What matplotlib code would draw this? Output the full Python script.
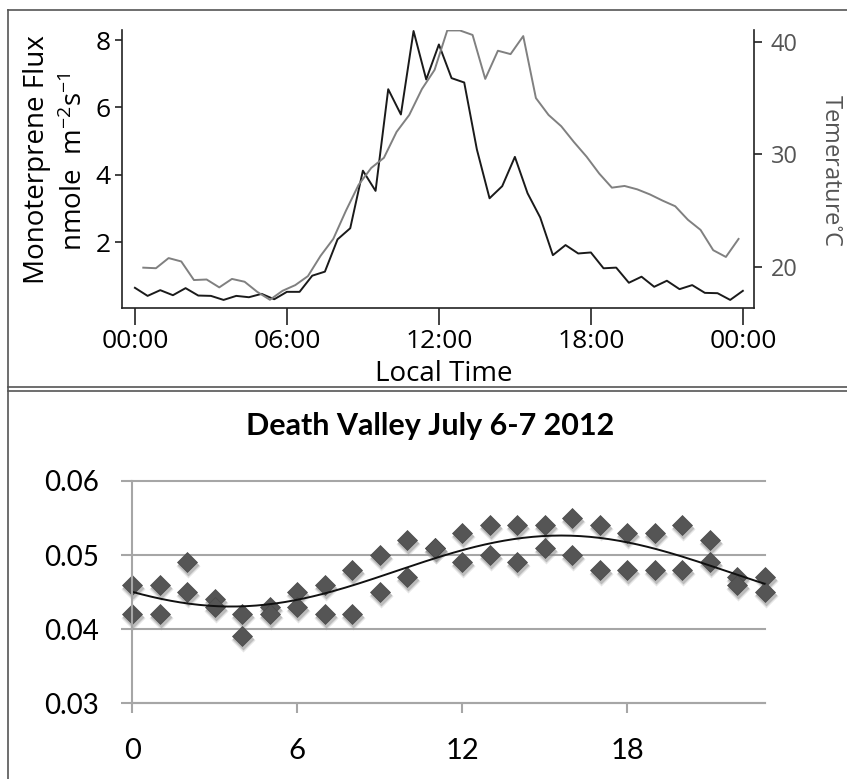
import numpy as np
import matplotlib
matplotlib.use("Agg")
import matplotlib.pyplot as plt
from matplotlib.lines import Line2D
from matplotlib.transforms import offset_copy

plt.rcParams['font.family'] = ['Open Sans', 'DejaVu Sans']
plt.rcParams['mathtext.default'] = 'regular'

W, H = 847, 779

# --- top panel data: half-hourly flux and temperature ---
flux_hours = np.arange(0, 24.01, 0.5)
flux = [0.64, 0.40, 0.57, 0.42, 0.63, 0.41, 0.40, 0.28, 0.40, 0.36,
        0.46, 0.30, 0.52, 0.52, 1.00, 1.12, 2.08, 2.41, 4.12, 3.52,
        6.54, 5.79, 8.27, 6.83, 7.87, 6.87, 6.74, 4.75, 3.30, 3.66,
        4.53, 3.45, 2.73, 1.61, 1.91, 1.66, 1.69, 1.22, 1.24, 0.79,
        0.97, 0.67, 0.85, 0.60, 0.72, 0.49, 0.48, 0.28, 0.55]

temp_hours = np.arange(0.33, 24, 0.5)
temp = [19.95, 19.9, 20.8, 20.5, 18.85, 18.9, 18.2, 18.95, 18.7, 17.8,
        17.1, 17.9, 18.4, 19.2, 21.0, 22.5, 25.0, 27.3, 28.8, 29.7,
        32.0, 33.5, 35.8, 37.5, 41.0, 41.0, 40.6, 36.7, 39.2, 38.9,
        40.5, 35.0, 33.5, 32.5, 31.1, 29.8, 28.3, 27.05, 27.2, 26.9,
        26.45, 25.9, 25.4, 24.2, 23.3, 21.5, 20.9, 22.5]

time_ticks = [0, 6, 12, 18, 24]
time_labels = ['00:00', '06:00', '12:00', '18:00', '00:00']

# --- bottom panel data: two readings per hour ---
hours = list(range(24))
ratio_high = [0.046, 0.046, 0.049, 0.044, 0.042, 0.043, 0.045, 0.046, 0.048, 0.050,
              0.052, 0.051, 0.053, 0.054, 0.054, 0.054, 0.055, 0.054, 0.053, 0.053,
              0.054, 0.052, 0.047, 0.047]
ratio_low = [0.042, 0.042, 0.045, 0.043, 0.039, 0.042, 0.043, 0.042, 0.042, 0.045,
             0.047, 0.051, 0.049, 0.050, 0.049, 0.051, 0.050, 0.048, 0.048, 0.048,
             0.048, 0.049, 0.046, 0.045]


def fx(x):
    return x / W


def fy(y):
    return 1 - y / H


fig = plt.figure(figsize=(W / 100, H / 100), dpi=100)

# frame lines around the two panels
frame_c = '#555555'
for (x0, y0, x1, y1) in [(8, 10, W, 10), (8, 10, 8, H), (8, 387, W, 387), (8, 391, W, 391)]:
    fig.add_artist(Line2D([fx(x0), fx(x1)], [fy(y0), fy(y1)], transform=fig.transFigure,
                          color=frame_c, lw=1.2))

# ---------------- top panel ----------------
ax1 = fig.add_axes([fx(122), fy(308), (754 - 122) / W, (308 - 30) / H])
ax1.plot(flux_hours, flux, color='#1a1a1a', lw=1.4)
ax1.set_xlim(-0.51, 24.44)
ax1.set_ylim(0.04, 8.30)
ax1.set_xticks(time_ticks)
ax1.set_xticklabels(time_labels)
ax1.set_yticks([2, 4, 6, 8])
ax1.tick_params(axis='x', direction='out', length=12, width=1.2, labelsize=19, pad=3, color='#222')
ax1.tick_params(axis='y', direction='out', length=5, width=1.2, labelsize=19, pad=3, color='#222')
for s in ['top', 'right']:
    ax1.spines[s].set_visible(False)
for s in ['left', 'bottom']:
    ax1.spines[s].set_linewidth(1.2)
    ax1.spines[s].set_color('#222')

ax2 = ax1.twinx()
ax2.plot(temp_hours, temp, color='#808080', lw=1.4)
ax2.set_ylim(16.37, 41.04)
ax2.set_yticks([20, 30, 40])
ax2.tick_params(axis='y', direction='out', length=6, width=1.2, labelsize=17, pad=6,
                color='#222', labelcolor='#555555')
for s in ['top', 'left', 'bottom']:
    ax2.spines[s].set_visible(False)
ax2.spines['right'].set_linewidth(1.2)
ax2.spines['right'].set_color('#222')

fig.text(fx(444), fy(374), 'Local Time', ha='center', va='center', fontsize=20)
fig.text(fx(37), fy(160), 'Monoterprene Flux', rotation=90, ha='center', va='center', fontsize=20)
fig.text(fx(75), fy(162), 'nmole  m$^{-2}$s$^{-1}$', rotation=90, ha='center', va='center', fontsize=20)
fig.text(fx(831), fy(170), 'Temerature$^{\\circ}$C', rotation=270, ha='center', va='center',
         fontsize=17, color='#555555')

# ---------------- bottom panel ----------------
bot_font = ['Lato', 'DejaVu Sans']
grid_c = '#a6a6a6'
ax3 = fig.add_axes([fx(132.4), fy(703), (764.6 - 132.4) / W, (703 - 481) / H])
ax3.set_xlim(0, 23)
ax3.set_ylim(0.03, 0.06)
ax3.set_yticks([0.03, 0.04, 0.05, 0.06])
ax3.set_yticklabels(['0.03', '0.04', '0.05', '0.06'], fontfamily=bot_font)
ax3.set_xticks([0, 6, 12, 18])
ax3.set_xticklabels(['0', '6', '12', '18'], fontfamily=bot_font)
ax3.grid(axis='y', color=grid_c, lw=1.5)
for gl in ax3.get_ygridlines():
    gl.set_clip_on(False)
ax3.set_axisbelow(True)
ax3.tick_params(axis='y', direction='out', length=8, width=1.5, color=grid_c, labelsize=20, pad=16)
ax3.tick_params(axis='x', direction='out', length=7, width=1.5, color=grid_c, labelsize=21, pad=18)
for s in ['top', 'right']:
    ax3.spines[s].set_visible(False)
for s in ['left', 'bottom']:
    ax3.spines[s].set_color(grid_c)
    ax3.spines[s].set_linewidth(1.5)

all_x = np.array(hours + hours, dtype=float)
all_y = np.array(ratio_high + ratio_low)
shadow1 = offset_copy(ax3.transData, fig=fig, x=1, y=-3, units='dots')
shadow2 = offset_copy(ax3.transData, fig=fig, x=1, y=-4, units='dots')
ax3.plot(all_x, all_y, 'D', ms=12.5, color='#9a9a9a', alpha=0.25, mec='none',
         transform=shadow2, clip_on=False)
ax3.plot(all_x, all_y, 'D', ms=11, color='#8a8a8a', alpha=0.45, mec='none',
         transform=shadow1, clip_on=False)
ax3.plot(all_x, all_y, 'D', ms=10.2, color='#555555', mec='#4a4a4a', mew=0.5, clip_on=False)

# trendline: least-squares 24 h harmonic fit of the readings
w = 2 * np.pi / 24
A = np.column_stack([np.ones_like(all_x), np.cos(w * all_x), np.sin(w * all_x)])
coef, *_ = np.linalg.lstsq(A, all_y, rcond=None)
xs = np.linspace(0, 23, 200)
fit = coef[0] + coef[1] * np.cos(w * xs) + coef[2] * np.sin(w * xs)
ax3.plot(xs, fit, color='#111111', lw=1.4, clip_on=False)

fig.text(fx(430), fy(426), 'Death Valley July 6-7 2012', ha='center', va='center',
         fontsize=22, fontweight='bold', family=bot_font)

fig.savefig('out.png', dpi=100)
